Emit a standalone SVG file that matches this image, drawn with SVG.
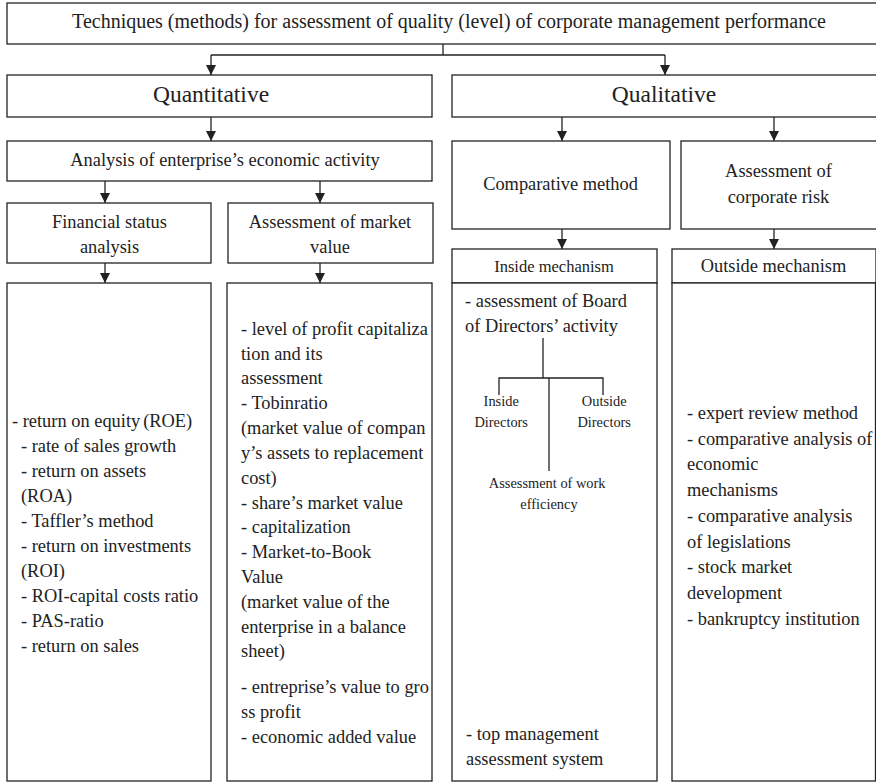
<svg xmlns="http://www.w3.org/2000/svg" width="876" height="782" viewBox="0 0 876 782">
<style>
.b{fill:#fff;stroke:#222;stroke-width:1.3}
.c{fill:none;stroke:#222;stroke-width:1.3}
text{font-family:"Liberation Serif","Times New Roman",serif;fill:#222}
.t20{font-size:20px}
.t23{font-size:23.5px}
.t18{font-size:18.4px}
.t16{font-size:16.5px}
.t14{font-size:14.4px}
.m{text-anchor:middle}
</style>
<defs>
<marker id="ah" viewBox="0 0 10 10" refX="10" refY="5" markerWidth="10" markerHeight="10" markerUnits="userSpaceOnUse" orient="auto">
<path d="M0,0 L10,5 L0,10 Z" fill="#222"/>
</marker>
</defs>
<rect width="876" height="782" fill="#fff"/>

<g id="connectors">
<polyline class="c" points="443,44 443,55"/>
<line class="c" x1="211" y1="55" x2="665" y2="55"/>
<line class="c" x1="211" y1="55" x2="211" y2="75" marker-end="url(#ah)"/>
<line class="c" x1="665" y1="55" x2="665" y2="75" marker-end="url(#ah)"/>
<line class="c" x1="211" y1="117" x2="211" y2="141" marker-end="url(#ah)"/>
<line class="c" x1="105" y1="181" x2="105" y2="203" marker-end="url(#ah)"/>
<line class="c" x1="320" y1="181" x2="320" y2="203" marker-end="url(#ah)"/>
<line class="c" x1="105" y1="263" x2="105" y2="283" marker-end="url(#ah)"/>
<line class="c" x1="320" y1="263" x2="320" y2="283" marker-end="url(#ah)"/>
<line class="c" x1="562" y1="117" x2="562" y2="141" marker-end="url(#ah)"/>
<line class="c" x1="774" y1="117" x2="774" y2="141" marker-end="url(#ah)"/>
<line class="c" x1="562" y1="229" x2="562" y2="249" marker-end="url(#ah)"/>
<line class="c" x1="774" y1="229" x2="774" y2="249" marker-end="url(#ah)"/>
</g>

<g id="title">
<rect class="b" x="7" y="3" width="880" height="41"/>
<text class="t20 m" x="449" y="28">Techniques (methods) for assessment of quality (level) of corporate management performance</text>
</g>

<g id="quantitative">
<rect class="b" x="7" y="75" width="425" height="42"/>
<text class="t23 m" x="211" y="102">Quantitative</text>
</g>

<g id="qualitative">
<rect class="b" x="452" y="75" width="430" height="42"/>
<text class="t23 m" x="664" y="102">Qualitative</text>
</g>

<g id="analysis">
<rect class="b" x="7" y="141" width="425" height="40"/>
<text class="t18 m" x="225" y="166">Analysis of enterprise’s economic activity</text>
</g>

<g id="financial">
<rect class="b" x="7" y="203" width="204" height="60"/>
<text class="t18 m" x="109.5" y="228">Financial status</text>
<text class="t18 m" x="109.5" y="253">analysis</text>
</g>

<g id="market">
<rect class="b" x="228" y="203" width="205" height="60"/>
<text class="t18 m" x="330" y="228">Assessment of market</text>
<text class="t18 m" x="330" y="253">value</text>
</g>

<g id="financial-list">
<rect class="b" x="7" y="283" width="204" height="498"/>
<text class="t18">
<tspan x="12" y="427">- return on equity<tspan dx="3">(ROE)</tspan></tspan>
<tspan x="21" y="452">- rate of sales growth</tspan>
<tspan x="21" y="477">- return on assets</tspan>
<tspan x="21" y="502">(ROA)</tspan>
<tspan x="21" y="527">- Taffler’s method</tspan>
<tspan x="21" y="552">- return on investments</tspan>
<tspan x="21" y="577">(ROI)</tspan>
<tspan x="21" y="602">- ROI-capital costs ratio</tspan>
<tspan x="21" y="627">- PAS-ratio</tspan>
<tspan x="21" y="652">- return on sales</tspan>
</text>
</g>

<g id="market-list">
<rect class="b" x="227" y="283" width="205" height="498"/>
<text class="t18">
<tspan x="241" y="335">- level of profit capitaliza</tspan>
<tspan x="241" y="360">tion and its</tspan>
<tspan x="241" y="384">assessment</tspan>
<tspan x="241" y="409">- Tobinratio</tspan>
<tspan x="241" y="434">(market value of compan</tspan>
<tspan x="241" y="459">y’s assets to replacement</tspan>
<tspan x="241" y="484">cost)</tspan>
<tspan x="241" y="509">- share’s market value</tspan>
<tspan x="241" y="533">- capitalization</tspan>
<tspan x="241" y="558">- Market-to-Book</tspan>
<tspan x="241" y="583">Value</tspan>
<tspan x="241" y="608">(market value of the</tspan>
<tspan x="241" y="633">enterprise in a balance</tspan>
<tspan x="241" y="657">sheet)</tspan>
<tspan x="241" y="693">- entreprise’s value to gro</tspan>
<tspan x="241" y="718">ss profit</tspan>
<tspan x="241" y="743">- economic added value</tspan>
</text>
</g>

<g id="comparative">
<rect class="b" x="452" y="141" width="218" height="88"/>
<text class="t18 m" x="560.5" y="190">Comparative method</text>
</g>

<g id="risk">
<rect class="b" x="681" y="141" width="200" height="88"/>
<text class="t18 m" x="778.5" y="177">Assessment of</text>
<text class="t18 m" x="778.5" y="203">corporate risk</text>
</g>

<g id="inside">
<rect class="b" x="452" y="249" width="205" height="34"/>
<text class="t16 m" x="554" y="272">Inside mechanism</text>
<rect class="b" x="452" y="283" width="205" height="498"/>
<text class="t18">
<tspan x="465" y="307">- assessment of Board</tspan>
<tspan x="465" y="332">of Directors’ activity</tspan>
</text>
<polyline class="c" points="543,338 543,378"/>
<polyline class="c" points="499,395 499,378 603,378 603,395"/>
<polyline class="c" points="549,378 549,471"/>
<text class="t14 m">
<tspan x="503" y="406">Inside</tspan>
<tspan x="503" y="427">Directors</tspan>
<tspan x="606" y="406">Outside</tspan>
<tspan x="606" y="427">Directors</tspan>
<tspan x="549" y="488">Assessment of work</tspan>
<tspan x="549" y="509">efficiency</tspan>
</text>
<text class="t18">
<tspan x="466" y="740">- top management</tspan>
<tspan x="466" y="765">assessment system</tspan>
</text>
</g>

<g id="outside">
<rect class="b" x="672" y="249" width="204" height="34"/>
<text class="t18 m" x="773.5" y="272">Outside mechanism</text>
<rect class="b" x="672" y="283" width="203.5" height="498"/>
<text class="t18">
<tspan x="687" y="419">- expert review method</tspan>
<tspan x="687" y="445">- comparative analysis of</tspan>
<tspan x="687" y="470">economic</tspan>
<tspan x="687" y="496">mechanisms</tspan>
<tspan x="687" y="522">- comparative analysis</tspan>
<tspan x="687" y="548">of legislations</tspan>
<tspan x="687" y="573">- stock market</tspan>
<tspan x="687" y="599">development</tspan>
<tspan x="687" y="625">- bankruptcy institution</tspan>
</text>
</g>
</svg>
